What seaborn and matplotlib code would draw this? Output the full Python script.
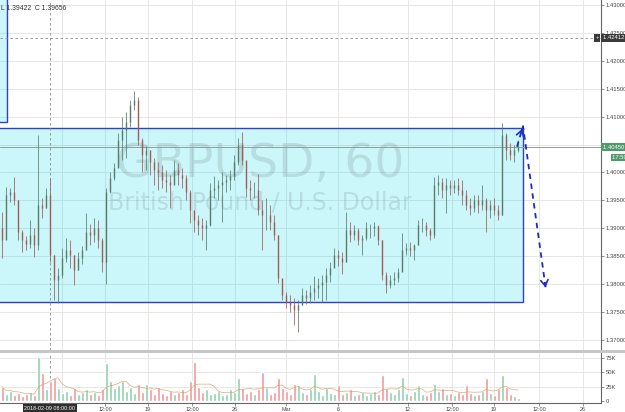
import numpy as np
import pandas as pd
import matplotlib
matplotlib.use("Agg")
import matplotlib.pyplot as plt
from matplotlib.patches import Rectangle
import seaborn as sns

# GBPUSD price samples (high / low / close)
highs = [1.3929, 1.3974, 1.3972, 1.3992, 1.3951, 1.3897, 1.3886, 1.3915, 1.3900, 1.4067,
         1.3954, 1.3972, 1.3990, 1.3852, 1.3829, 1.3865, 1.3883, 1.3879, 1.3852, 1.3857,
         1.3868, 1.3927, 1.3908, 1.3918, 1.3915, 1.3883, 1.3972, 1.4001, 1.4017, 1.4071,
         1.4099, 1.4108, 1.4130, 1.4146, 1.4135, 1.4062, 1.4047, 1.4040, 1.4026, 1.4019,
         1.4013, 1.4004, 1.3995, 1.4022, 1.4017, 1.4008, 1.3995, 1.3969, 1.3933, 1.3924,
         1.3918, 1.3915, 1.3981, 1.3994, 1.3986, 1.4001, 1.3995, 1.4004, 1.4031, 1.4062,
         1.4072, 1.4013, 1.3986, 1.3983, 1.3997, 1.3951, 1.3954, 1.3942, 1.3924, 1.3888,
         1.3798, 1.3786, 1.3780, 1.3775, 1.3771, 1.3793, 1.3789, 1.3798, 1.3814, 1.3811,
         1.3816, 1.3829, 1.3840, 1.3865, 1.3861, 1.3857, 1.3929, 1.3911, 1.3906, 1.3900,
         1.3888, 1.3911, 1.3908, 1.3911, 1.3906, 1.3879, 1.3822, 1.3816, 1.3822, 1.3829,
         1.3891, 1.3874, 1.3875, 1.3872, 1.3915, 1.3918, 1.3911, 1.3900, 1.3992, 1.3995,
         1.3990, 1.3990, 1.3986, 1.3986, 1.3990, 1.3986, 1.3969, 1.3954, 1.3960, 1.3960,
         1.3977, 1.3954, 1.3951, 1.3954, 1.3942, 1.4089, 1.4071, 1.4053, 1.4049, 1.4058]
lows = [1.3847, 1.3942, 1.3947, 1.3942, 1.3879, 1.3857, 1.3861, 1.3865, 1.3848, 1.3861,
        1.3918, 1.3936, 1.3840, 1.3771, 1.3766, 1.3811, 1.3840, 1.3829, 1.3798, 1.3825,
        1.3836, 1.3861, 1.3870, 1.3875, 1.3865, 1.3822, 1.3800, 1.3965, 1.3986, 1.4013,
        1.4022, 1.4026, 1.4081, 1.4112, 1.4049, 1.4001, 1.4004, 1.3995, 1.3977, 1.3969,
        1.3972, 1.3965, 1.3936, 1.3983, 1.3977, 1.3972, 1.3951, 1.3909, 1.3893, 1.3888,
        1.3879, 1.3861, 1.3904, 1.3954, 1.3951, 1.3911, 1.3965, 1.3969, 1.3986, 1.4013,
        1.4013, 1.3956, 1.3951, 1.3954, 1.3924, 1.3861, 1.3897, 1.3897, 1.3879, 1.3802,
        1.3771, 1.3757, 1.3750, 1.3727, 1.3714, 1.3762, 1.3764, 1.3766, 1.3771, 1.3775,
        1.3768, 1.3771, 1.3804, 1.3834, 1.3832, 1.3818, 1.3840, 1.3875, 1.3879, 1.3870,
        1.3852, 1.3879, 1.3883, 1.3886, 1.3870, 1.3807, 1.3784, 1.3793, 1.3798, 1.3804,
        1.3825, 1.3852, 1.3850, 1.3843, 1.3870, 1.3893, 1.3886, 1.3879, 1.3883, 1.3960,
        1.3954, 1.3927, 1.3960, 1.3963, 1.3960, 1.3942, 1.3933, 1.3924, 1.3929, 1.3927,
        1.3933, 1.3893, 1.3918, 1.3924, 1.3915, 1.3924, 1.4022, 1.4022, 1.4019, 1.4036]
closes = [1.3879, 1.3960, 1.3965, 1.3951, 1.3893, 1.3879, 1.3872, 1.3888, 1.3870, 1.3942,
          1.3936, 1.3960, 1.3852, 1.3807, 1.3816, 1.3847, 1.3861, 1.3852, 1.3825, 1.3847,
          1.3861, 1.3893, 1.3888, 1.3900, 1.3879, 1.3840, 1.3965, 1.3990, 1.4008, 1.4058,
          1.4076, 1.4090, 1.4121, 1.4130, 1.4058, 1.4031, 1.4040, 1.4019, 1.4004, 1.4001,
          1.3986, 1.3983, 1.3977, 1.4004, 1.3995, 1.3990, 1.3965, 1.3933, 1.3915, 1.3906,
          1.3900, 1.3906, 1.3969, 1.3972, 1.3977, 1.3983, 1.3986, 1.3994, 1.4019, 1.4049,
          1.4022, 1.3972, 1.3969, 1.3969, 1.3933, 1.3924, 1.3924, 1.3911, 1.3888, 1.3811,
          1.3780, 1.3768, 1.3762, 1.3753, 1.3762, 1.3780, 1.3775, 1.3786, 1.3793, 1.3798,
          1.3804, 1.3816, 1.3829, 1.3852, 1.3847, 1.3840, 1.3897, 1.3888, 1.3897, 1.3879,
          1.3883, 1.3900, 1.3900, 1.3904, 1.3879, 1.3816, 1.3798, 1.3807, 1.3811, 1.3822,
          1.3861, 1.3865, 1.3861, 1.3870, 1.3906, 1.3906, 1.3897, 1.3888, 1.3977, 1.3983,
          1.3969, 1.3977, 1.3972, 1.3977, 1.3969, 1.3960, 1.3942, 1.3936, 1.3951, 1.3942,
          1.3951, 1.3933, 1.3942, 1.3933, 1.3924, 1.4067, 1.4040, 1.4031, 1.4040, 1.4045]
first_open = 1.3900
# volume in thousands
volumes = [25, 12, 18, 10, 14, 8, 12, 16, 10, 76,
           48, 20, 35, 40, 22, 14, 18, 10, 22, 12,
           16, 20, 12, 15, 10, 20, 65, 35, 22, 28,
           35, 18, 25, 14, 30, 16, 30, 20, 12, 25,
           14, 10, 18, 12, 15, 20, 12, 35, 68, 25,
           15, 20, 12, 14, 18, 10, 12, 20, 16, 40,
           22, 14, 18, 12, 20, 50, 25, 12, 16, 40,
           22, 18, 12, 30, 28, 15, 12, 20, 47, 18,
           10, 22, 14, 12, 28, 12, 15, 20, 10, 12,
           16, 10, 14, 18, 12, 45, 22, 16, 12, 20,
           42, 14, 10, 18, 28, 12, 10, 16, 30, 18,
           22, 12, 14, 10, 16, 12, 28, 14, 10, 12,
           18, 40, 14, 10, 20, 45, 24, 12, 8, 5]

price_ticks = [1.370, 1.375, 1.380, 1.385, 1.390, 1.395, 1.400, 1.405, 1.410, 1.415, 1.420, 1.425, 1.430]
vol_ticks = [0, 25, 50, 75]
vol_tick_labels = ["0", "25K", "50K", "75K"]
x_tick_pos = [25.75, 36.5, 47.5, 58.25, 71.0, 84.0, 101.5, 112.5, 123.0, 134.25, 145.25]
x_tick_labels = ["12:00", "19", "12:00", "26", "Mar", "6", "12", "12:00", "19", "12:00", "26"]
hidden_grid = [15.0]
cursor_x = 12.0
cursor_label = "2018-02-09 08:00:00"

zone_top, zone_bottom, zone_end = 1.4079, 1.3767, 130.3
left_box_bottom, left_box_end = 1.4090, 1.3
alert_price = 1.42412
last_price = 1.4045
arrow_x = [128.75, 130.25, 136.0]
arrow_y = [1.4046, 1.4083, 1.3789]

sns.set_theme(style="white")
plt.rcParams['font.family'] = ['Liberation Sans', 'DejaVu Sans']

df = pd.DataFrame({"high": highs, "low": lows, "close": closes, "vol": volumes})
df["open"] = [first_open] + closes[:-1]
df["idx"] = np.arange(len(df))
df["up"] = df["close"] >= df["open"]
df["vol_ma"] = df["vol"].rolling(6, min_periods=1).mean()

fig = plt.figure(figsize=(6.25, 4.12), dpi=100)
ax = fig.add_axes([0, 1 - 350 / 412, 601 / 625, 350 / 412])
axv = fig.add_axes([0, 1 - 403 / 412, 601 / 625, 50 / 412], sharex=ax)

grid_c = "#e6e6e6"
for p in price_ticks:
    ax.axhline(p, color=grid_c, lw=0.7, zorder=0)
for xp in x_tick_pos + hidden_grid:
    ax.axvline(xp, color=grid_c, lw=0.7, zorder=0)
    axv.axvline(xp, color=grid_c, lw=0.7, zorder=0)
for v in vol_ticks[1:]:
    axv.axhline(v, color=grid_c, lw=0.7, zorder=0)

# zones
ax.add_patch(Rectangle((-3, zone_bottom), zone_end + 3, zone_top - zone_bottom,
                       fc=(0.0, 0.86, 0.9, 0.2), ec="#2f3fd0", lw=1.0, zorder=1))
ax.add_patch(Rectangle((-3, left_box_bottom), left_box_end + 3, 0.05,
                       fc=(0.0, 0.86, 0.9, 0.2), ec="#2f3fd0", lw=1.0, zorder=1))

# watermark
wm = (0.35, 0.45, 0.45)
ax.text(0.4326, 1 - 177 / 350, "GBPUSD, 60", transform=ax.transAxes, ha="center", va="baseline",
        fontsize=34, family="DejaVu Sans", color=wm, alpha=0.19, zorder=2)
ax.text(0.4326, 1 - 210 / 350, "British Pound / U.S. Dollar", transform=ax.transAxes, ha="center",
        va="baseline", fontsize=17, family="DejaVu Sans", color=wm, alpha=0.19, zorder=2)

# lines
ax.axhline(alert_price, color="#8a8a8a", lw=0.6, ls=(0, (3, 3)), zorder=2)
ax.axhline(last_price, color="#9a9a9a", lw=0.7, zorder=2)
ax.axvline(cursor_x, color="#8a8a8a", lw=0.6, ls=(0, (3, 3)), zorder=2)
axv.axvline(cursor_x, color="#8a8a8a", lw=0.6, ls=(0, (3, 3)), zorder=2)

# candles
up_c, dn_c = "#5a7a6b", "#a35a55"
for r in df.itertuples():
    c = up_c if r.up else dn_c
    ax.vlines(r.idx, r.low, r.high, color=c, lw=0.55, zorder=3)
    ax.vlines(r.idx, min(r.open, r.close), max(r.open, r.close), color=c, lw=1.0, zorder=3)

# forecast arrow
blue = "#1f2cc0"
ax.plot(arrow_x, arrow_y, color=blue, lw=1.3, ls=(0, (3, 2.5)), zorder=4)
ax.annotate("", xy=(arrow_x[1], arrow_y[1]), xytext=(arrow_x[1] - 0.5, arrow_y[1] - 0.0012),
            arrowprops=dict(arrowstyle="->,head_length=0.35,head_width=0.22", color=blue, lw=1.2), zorder=4)
ax.annotate("", xy=(arrow_x[2], arrow_y[2]), xytext=(arrow_x[2] - 0.4, arrow_y[2] + 0.0018),
            arrowprops=dict(arrowstyle="->,head_length=0.35,head_width=0.22", color=blue, lw=1.2), zorder=4)

# volume
vcols = ["#8fd3ad" if u else "#f29a9c" for u in df["up"]]
axv.bar(df["idx"], df["vol"], width=0.75, color=vcols, zorder=2)
sns.lineplot(data=df, x="idx", y="vol_ma", ax=axv, color="#e39a62", lw=0.55, alpha=0.8, zorder=3)

ax.set_xlim(-0.5, 149.75)
ax.set_ylim(1.36818, 1.4309)
axv.set_ylim(-3.5, 83.1)

for a in (ax, axv):
    a.set_facecolor("white")
    for s in ("left", "top"):
        a.spines[s].set_visible(False)
    a.spines["right"].set_color("#666666")
    a.spines["right"].set_linewidth(0.8)
    a.yaxis.tick_right()
    a.set_xlabel("")
    a.set_ylabel("")
ax.spines["bottom"].set_visible(False)
axv.spines["bottom"].set_color("#666666")
axv.spines["bottom"].set_linewidth(0.8)

ax.set_yticks(price_ticks)
ax.set_yticklabels([f"{p:.5f}" for p in price_ticks])
ax.tick_params(axis="y", right=True, length=2, width=0.5, color="#666666", pad=1.5, labelsize=4.2, labelcolor="#444444")
ax.tick_params(axis="x", bottom=False, labelbottom=False)
axv.set_yticks(vol_ticks)
axv.set_yticklabels(vol_tick_labels)
axv.tick_params(axis="y", right=True, length=2, width=0.5, color="#666666", pad=1.5, labelsize=4.2, labelcolor="#444444")
axv.set_xticks(x_tick_pos)
axv.set_xticklabels(x_tick_labels)
axv.tick_params(axis="x", bottom=True, length=2, width=0.5, color="#666666", pad=1.2, labelsize=3.9, labelcolor="#444444")

# separator between panes
fig.add_artist(Rectangle((0, 1 - 352.5 / 412), 1, 2.6 / 412, transform=fig.transFigure,
                         color="#c6c6c6", lw=0))

# price labels on the axis
ytr = ax.get_yaxis_transform()
ax.text(1.003, alert_price, "1.42412 ", transform=ytr, ha="left", va="center", fontsize=4.2,
        color="white", zorder=10, bbox=dict(boxstyle="square,pad=0.25", fc="#3a3a3a", ec="none"))
ax.text(0.991, alert_price, "+", transform=ytr, ha="left", va="center", fontsize=4.2,
        color="white", zorder=10, bbox=dict(boxstyle="square,pad=0.2", fc="#3a3a3a", ec="none"))
ax.text(1.003, last_price, "1.40450 ", transform=ytr, ha="left", va="center", fontsize=4.2,
        color="white", zorder=10, bbox=dict(boxstyle="square,pad=0.25", fc="#4f9a6b", ec="none"))
ax.text(1.018, 1.40265, "17:50 ", transform=ytr, ha="left", va="center", fontsize=4.2,
        color="white", zorder=10, bbox=dict(boxstyle="square,pad=0.2", fc="#4f9a6b", ec="none"))

# cursor time label
axv.text(cursor_x, -0.11, cursor_label, transform=axv.get_xaxis_transform(), ha="center", va="center",
         fontsize=3.9, color="white", zorder=10, clip_on=False,
         bbox=dict(boxstyle="square,pad=0.3", fc="#2e2e2e", ec="none"))

# ohlc readout
fig.text(0.001, 1 - 8.5 / 412, "L 1.39422  C 1.39656", ha="left", va="center", fontsize=4.9, color="#333333")

fig.savefig("out.png", dpi=100)
